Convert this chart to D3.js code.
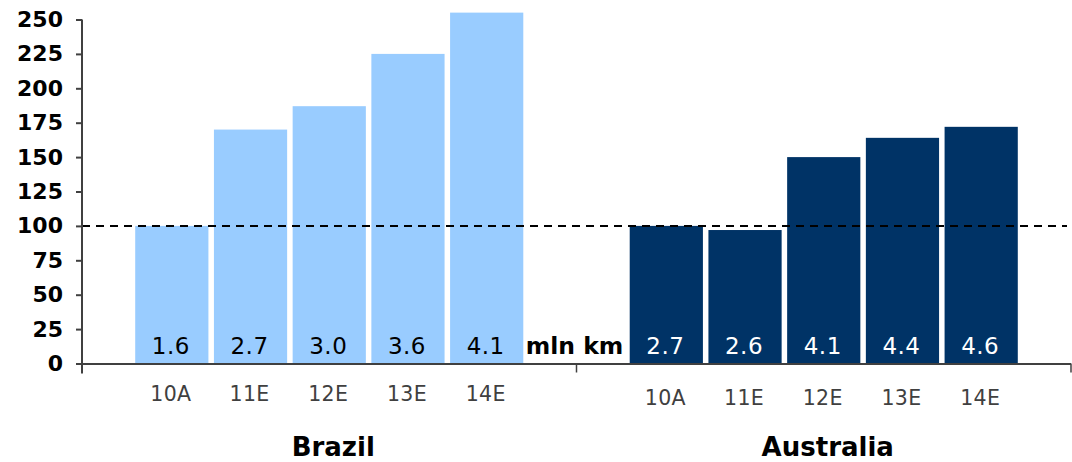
<!DOCTYPE html>
<html>
<head>
<meta charset="utf-8">
<script src="https://cdn.jsdelivr.net/npm/d3@7"></script>
<style>
  html, body { margin: 0; padding: 0; background: #fff; }
  svg { display: block; font-family: "DejaVu Sans", Verdana, sans-serif; }
</style>
</head>
<body>
<svg id="chart" width="1072" height="462"></svg>
<script>
// ---- data ----
const groups = ["Brazil", "Australia"];
const years = ["10A", "11E", "12E", "13E", "14E"];
const brazilIndex = [100, 170, 187, 225, 255];
const australiaIndex = [100, 97, 150, 164, 172];
const brazilLength = ["1.6", "2.7", "3.0", "3.6", "4.1"];
const australiaLength = ["2.7", "2.6", "4.1", "4.4", "4.6"];
const yTicks = [0, 25, 50, 75, 100, 125, 150, 175, 200, 225, 250];
const unitLabel = "mln km";
const referenceValue = 100;

const seriesByGroup = {
  Brazil: { values: brazilIndex, labels: brazilLength, color: "#99CCFF", text: "#000000", catDy: 0 },
  Australia: { values: australiaIndex, labels: australiaLength, color: "#003366", text: "#FFFFFF", catDy: 4 }
};

// ---- layout ----
const svg = d3.select("#chart");
const x0 = 82, x1 = 1071, yTop = 19.5, yBottom = 363.5;

const y = d3.scaleLinear().domain([0, 250]).range([yBottom, yTop]);
const gx = d3.scaleBand().domain(groups).range([x0, x1]).padding(0);
const ix = d3.scaleBand().domain(years).range([0, gx.bandwidth()])
  .paddingInner(0.07).paddingOuter(0.676);

// bars
groups.forEach(g => {
  const s = seriesByGroup[g];
  const gg = svg.append("g").attr("transform", `translate(${gx(g)},0)`);
  gg.selectAll("rect").data(years).join("rect")
    .attr("x", d => ix(d))
    .attr("width", ix.bandwidth())
    .attr("y", (d, i) => y(s.values[i]))
    .attr("height", (d, i) => y(0) - y(s.values[i]))
    .attr("fill", s.color);
  gg.selectAll("text.val").data(years).join("text")
    .attr("class", "val")
    .attr("x", d => ix(d) + ix.bandwidth() / 2 - 1)
    .attr("y", 354)
    .attr("text-anchor", "middle")
    .attr("font-size", 23)
    .attr("letter-spacing", 0.5)
    .attr("fill", s.text)
    .text((d, i) => s.labels[i]);
  gg.selectAll("text.cat").data(years).join("text")
    .attr("class", "cat")
    .attr("x", d => ix(d) + ix.bandwidth() / 2 - 1)
    .attr("y", 401 + s.catDy)
    .attr("text-anchor", "middle")
    .attr("font-size", 20.5)
    .attr("letter-spacing", 0.3)
    .attr("fill", "#404040")
    .text(d => d);
  svg.append("text")
    .attr("x", gx(g) + gx.bandwidth() / 2 + 4)
    .attr("y", 456)
    .attr("text-anchor", "middle")
    .attr("font-size", 26)
    .attr("font-weight", "bold")
    .attr("fill", "#000")
    .text(g);
});

// unit label between groups
svg.append("text")
  .attr("x", gx("Australia") - 2)
  .attr("y", 354)
  .attr("text-anchor", "middle")
  .attr("font-size", 23.5)
  .attr("font-weight", "bold")
  .attr("fill", "#000")
  .text(unitLabel);

// reference dashed line
svg.append("line")
  .attr("x1", x0).attr("x2", x1 - 4)
  .attr("y1", y(referenceValue)).attr("y2", y(referenceValue))
  .attr("stroke", "#000").attr("stroke-width", 2)
  .attr("stroke-dasharray", "8,6");

// y axis
const yAxis = svg.append("g").attr("transform", `translate(${x0},0)`)
  .call(d3.axisLeft(y).tickValues(yTicks).tickSize(6).tickPadding(13));
yAxis.select(".domain").remove();
yAxis.selectAll(".tick line").attr("stroke", "#404040").attr("stroke-width", 2);
yAxis.selectAll(".tick text")
  .attr("font-family", "DejaVu Sans, Verdana, sans-serif")
  .attr("font-size", 22).attr("font-weight", "bold").attr("fill", "#000");
svg.append("line")
  .attr("x1", x0).attr("x2", x0)
  .attr("y1", yTop).attr("y2", yBottom + 10)
  .attr("stroke", "#404040").attr("stroke-width", 2);

// x axis line and group separator ticks
svg.append("line")
  .attr("x1", x0).attr("x2", x1)
  .attr("y1", yBottom + 0.5).attr("y2", yBottom + 0.5)
  .attr("stroke", "#404040").attr("stroke-width", 2);
svg.selectAll("line.sep").data([gx("Australia"), x1]).join("line")
  .attr("class", "sep")
  .attr("x1", d => d).attr("x2", d => d)
  .attr("y1", yBottom).attr("y2", yBottom + 9)
  .attr("stroke", "#404040").attr("stroke-width", 1.5);
</script>
</body>
</html>
